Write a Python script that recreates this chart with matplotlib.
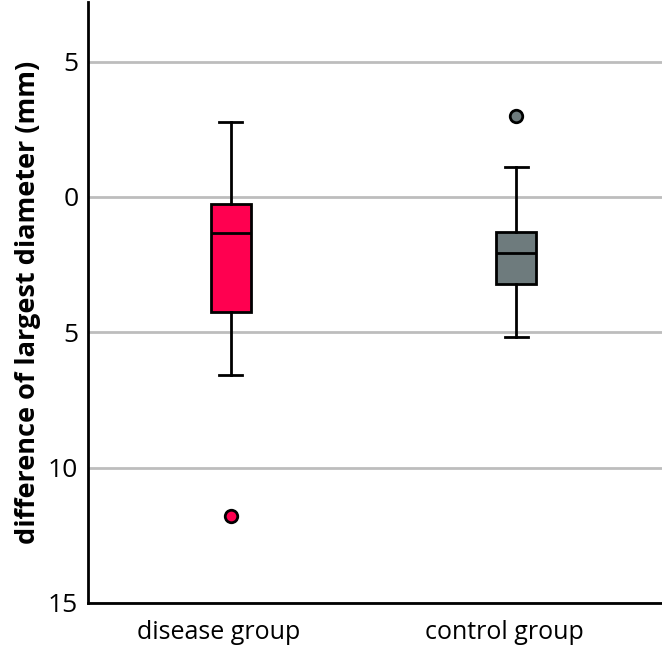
import matplotlib
matplotlib.use("Agg")
import matplotlib.pyplot as plt
import matplotlib.transforms as mtransforms
from matplotlib.ticker import FuncFormatter

plt.rcParams['font.family'] = ['Open Sans', 'DejaVu Sans']

groups = ['disease group', 'control group']
colors = ['#FF0050', '#6E7B7D']

# five-number summaries
whislo = [-6.58, -5.17]
q1 = [-4.26, -3.22]
med = [-1.34, -2.06]
q3 = [-0.28, -1.31]
whishi = [2.77, 1.10]
fliers = [[-11.78], [3.0]]

stats = []
for i, g in enumerate(groups):
    stats.append(dict(label=g, whislo=whislo[i], q1=q1[i], med=med[i],
                      q3=q3[i], whishi=whishi[i], fliers=fliers[i]))

fig = plt.figure(figsize=(6.62, 6.49), dpi=100)
ax = fig.add_axes([88/662, 46/649, 1 - 88/662, 601/649])

bp = ax.bxp(stats, positions=[1, 2], widths=0.14, patch_artist=True,
            showfliers=True,
            boxprops=dict(linewidth=2, edgecolor='black'),
            medianprops=dict(color='black', linewidth=2),
            whiskerprops=dict(color='black', linewidth=2),
            capprops=dict(color='black', linewidth=2),
            capwidths=0.08)
for patch, c in zip(bp['boxes'], colors):
    patch.set_facecolor(c)
for fl, c in zip(bp['fliers'], colors):
    fl.set(marker='o', markerfacecolor=c, markeredgecolor='black',
           markersize=9, markeredgewidth=2)

ax.set_xlim(0.5, 2.51)
ax.set_ylim(-15, 7.2)
ax.set_yticks([5, 0, -5, -10, -15])
ax.yaxis.set_major_formatter(FuncFormatter(lambda v, p: '%d' % abs(v)))
ax.grid(axis='y', color='#BDBDBD', linewidth=2)
ax.set_axisbelow(True)
ax.tick_params(axis='y', length=0, labelsize=19, pad=7)
ax.tick_params(axis='x', length=0, labelsize=18, pad=12)

# group names sit a little left of the box centres in the reference
shift = mtransforms.ScaledTranslation(-12/100, 0, fig.dpi_scale_trans)
for lbl in ax.get_xticklabels():
    lbl.set_transform(lbl.get_transform() + shift)

for s in ['top', 'right']:
    ax.spines[s].set_visible(False)
ax.spines['left'].set_linewidth(2)
ax.spines['bottom'].set_linewidth(2)
ax.set_ylabel('difference of largest diameter (mm)', fontsize=19.5,
              fontweight='bold', labelpad=5)

fig.savefig('out.png', dpi=100)
